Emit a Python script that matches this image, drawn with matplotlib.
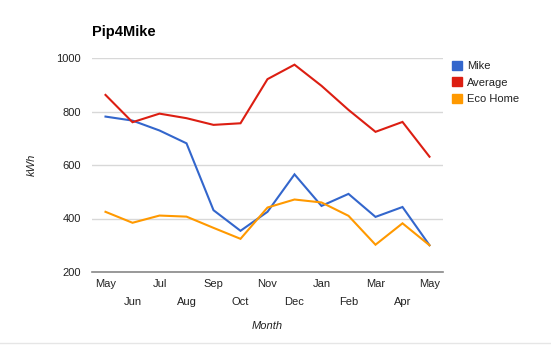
import matplotlib.pyplot as plt
from matplotlib.patches import Patch
from matplotlib.lines import Line2D

plt.rcParams['font.family'] = ['Liberation Sans', 'DejaVu Sans']

months = ['May', 'Jun', 'Jul', 'Aug', 'Sep', 'Oct', 'Nov', 'Dec', 'Jan', 'Feb', 'Mar', 'Apr', 'May']
mike = [781, 766, 729, 681, 431, 354, 425, 565, 447, 492, 406, 443, 300]
average = [862, 760, 792, 775, 750, 756, 921, 975, 896, 806, 724, 761, 631]
eco_home = [425, 384, 411, 407, 365, 324, 441, 471, 460, 410, 302, 382, 300]

series = [('Mike', mike, '#3366CC'), ('Average', average, '#DC1E12'), ('Eco Home', eco_home, '#FF9900')]

fig = plt.figure(figsize=(5.51, 3.61), dpi=100)
ax = fig.add_axes([92 / 551, 89 / 361, 351 / 551, 214 / 361])

x = list(range(len(months)))
for name, vals, col in series:
    ax.plot(x, vals, color=col, lw=1.5, solid_joinstyle='miter')

ax.set_xlim(-0.5, len(months) - 0.5)
ax.set_ylim(200, 1000)
ax.set_yticks([200, 400, 600, 800, 1000])
ax.yaxis.grid(True, color='#d8d8d8', lw=1)
ax.set_axisbelow(True)
for s in ['top', 'right', 'left']:
    ax.spines[s].set_visible(False)
ax.spines['bottom'].set_color('#888888')
ax.spines['bottom'].set_linewidth(1.2)

# alternating month labels: even on the first row, odd on the second
ax.set_xticks(x[::2])
ax.set_xticklabels(months[::2])
ax.set_xticks(x[1::2], minor=True)
ax.set_xticklabels(months[1::2], minor=True)
ax.tick_params(axis='x', which='major', length=0, pad=5, labelsize=8, colors='#222222')
ax.tick_params(axis='x', which='minor', length=0, pad=18, labelsize=8, colors='#222222')
ax.tick_params(axis='y', length=0, pad=8, labelsize=8, colors='#222222')

ax.set_xlabel('Month', style='italic', fontsize=8, labelpad=10, color='#222222')
ax.set_ylabel('kWh', style='italic', fontsize=8, labelpad=14, color='#222222')
fig.text(92 / 551, 1 - 32 / 361, 'Pip4Mike', fontsize=10.5, fontweight='bold', va='center')

handles = [Patch(facecolor=c, edgecolor=c) for _, _, c in series]
ax.legend(handles, [n for n, _, _ in series], loc='upper left',
          bbox_to_anchor=(446 / 551, 1 - 55 / 361), bbox_transform=fig.transFigure,
          frameon=False, fontsize=8, handlelength=0.9, handleheight=0.9,
          handletextpad=0.5, labelspacing=0.55, borderpad=0, labelcolor='#222222')

fig.add_artist(Line2D([0, 1], [1 - 343 / 361] * 2, color='#e6e6e6', lw=1))

fig.savefig('out.png', dpi=100)
